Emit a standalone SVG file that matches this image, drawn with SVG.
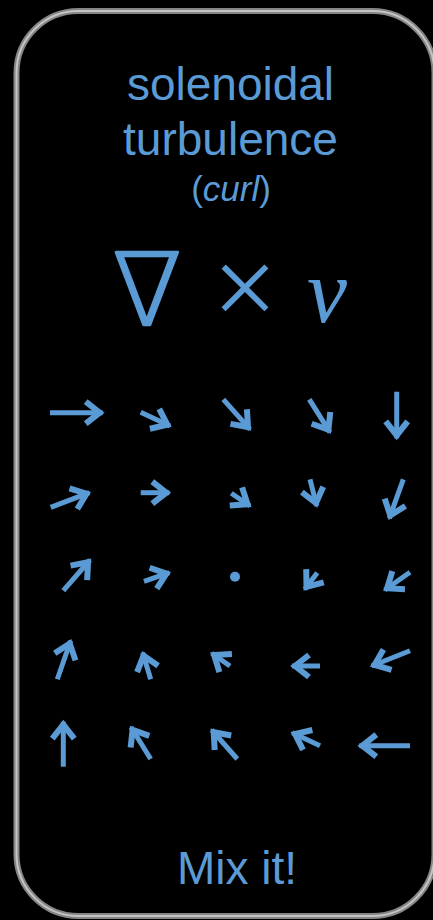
<svg xmlns="http://www.w3.org/2000/svg" width="433" height="920" viewBox="0 0 433 920">
  <defs>
    <marker id="head" markerUnits="userSpaceOnUse" markerWidth="44" markerHeight="44" viewBox="-22 -22 44 44" refX="3" refY="0" orient="auto">
      <path d="M-14,-11 L0,0 L-14,11" fill="none" stroke="#5B9BD5" stroke-width="6" stroke-linejoin="miter" stroke-linecap="butt" stroke-miterlimit="10"/>
    </marker>
  </defs>
  <style>
    .t { fill: #5B9BD5; font-family: "Liberation Sans", Arial, sans-serif; text-anchor: middle; }
    .a { stroke: #5B9BD5; stroke-width: 5; fill: none; marker-end: url(#head); }
  </style>
  <rect x="0" y="0" width="433" height="920" fill="#000"/>
  <g id="frame">
    <rect x="16.5" y="11" width="418" height="905" rx="62" ry="62" fill="#000" stroke="#858585" stroke-width="6"/>
    <rect x="16.5" y="11" width="418" height="905" rx="62" ry="62" fill="none" stroke="#c4c4c4" stroke-width="2"/>
  </g>
  <g id="title">
    <text class="t" x="230.5" y="100" font-size="46">solenoidal</text>
    <text class="t" x="230.5" y="155" font-size="46">turbulence</text>
    <text class="t" x="231" y="201" font-size="35">(<tspan font-style="italic">curl</tspan>)</text>
  </g>
  <g id="formula">
    <text x="147" y="325" font-size="100" font-weight="200" fill="#5B9BD5" stroke="#5B9BD5" stroke-width="2.5" stroke-linejoin="round" font-family="DejaVu Sans, sans-serif" text-anchor="middle">∇</text>
    <text x="245" y="326" font-size="115" fill="#5B9BD5" font-family="Liberation Serif, serif" text-anchor="middle">×</text>
    <text x="327" y="322" font-size="90" fill="#5B9BD5" font-family="Liberation Serif, serif" font-style="italic" text-anchor="middle">v</text>
  </g>
  <g id="connectors">
    <line class="a" x1="50" y1="412.7" x2="102.7" y2="412.7"/>
    <line class="a" x1="140.7" y1="412.3" x2="170" y2="426"/>
    <line class="a" x1="223.3" y1="399.3" x2="250" y2="429.3"/>
    <line class="a" x1="309.3" y1="399.3" x2="330" y2="432.3"/>
    <line class="a" x1="396.7" y1="391.7" x2="396.7" y2="438.3"/>

    <line class="a" x1="50.7" y1="507.3" x2="89.3" y2="492.7"/>
    <line class="a" x1="140.7" y1="492.7" x2="169.3" y2="492.7"/>
    <line class="a" x1="231.3" y1="493.3" x2="250" y2="506"/>
    <line class="a" x1="310" y1="479.3" x2="316.7" y2="506"/>
    <line class="a" x1="403.3" y1="479.3" x2="389.3" y2="518.3"/>

    <line class="a" x1="63.3" y1="590.7" x2="90" y2="560"/>
    <line class="a" x1="144" y1="581.3" x2="169.3" y2="572.7"/>
    <circle cx="235" cy="576.7" r="5" fill="#5B9BD5"/>
    <line class="a" x1="317.3" y1="572.7" x2="304.7" y2="589.3"/>
    <line class="a" x1="410" y1="572.3" x2="384.7" y2="590"/>

    <line class="a" x1="57.3" y1="679.3" x2="70.7" y2="640.7"/>
    <line class="a" x1="150.7" y1="679.3" x2="142.7" y2="652.7"/>
    <line class="a" x1="230" y1="666" x2="211.7" y2="653.3"/>
    <line class="a" x1="320" y1="666" x2="292" y2="666"/>
    <line class="a" x1="410" y1="650.7" x2="371.7" y2="666"/>

    <line class="a" x1="63.3" y1="766.7" x2="63.3" y2="721.7"/>
    <line class="a" x1="150.7" y1="759" x2="131" y2="727.3"/>
    <line class="a" x1="237.3" y1="759" x2="211.7" y2="730"/>
    <line class="a" x1="320" y1="745.7" x2="292.3" y2="732.7"/>
    <line class="a" x1="410" y1="745.7" x2="359.3" y2="745.7"/>
  </g>
  <g id="footer">
    <text class="t" x="237" y="884" font-size="46">Mix it!</text>
  </g>
</svg>
